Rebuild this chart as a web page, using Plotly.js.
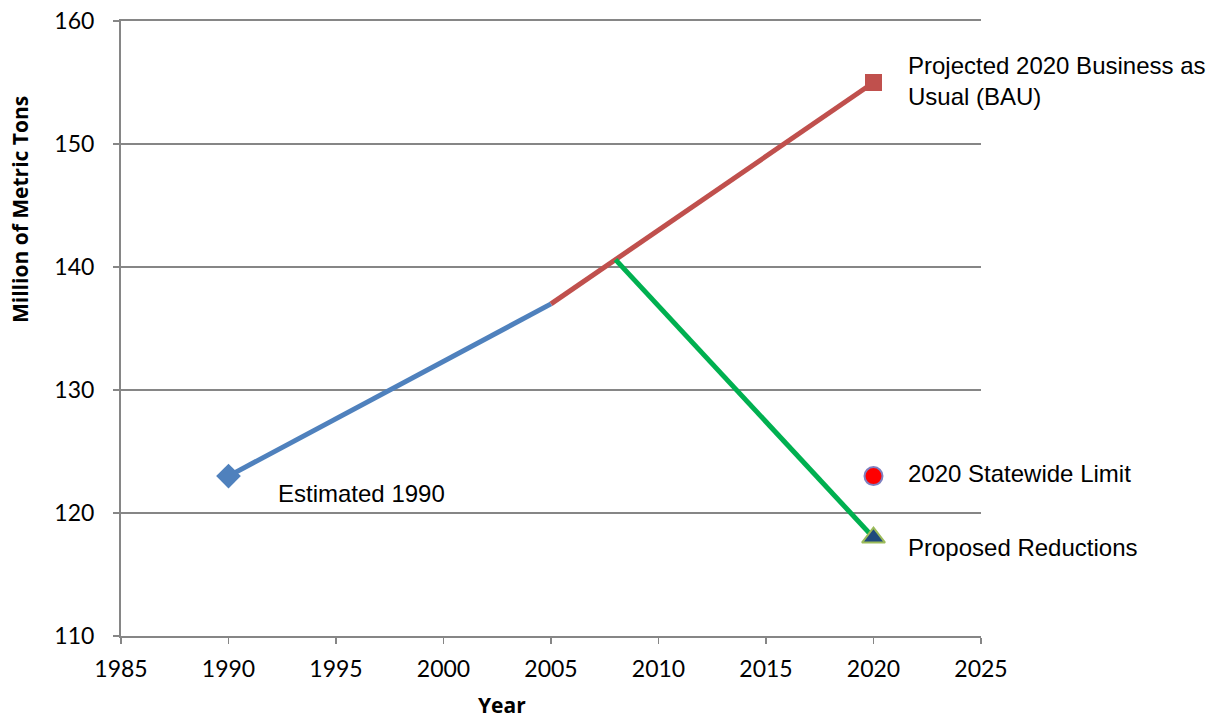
<!DOCTYPE html>
<html>
<head>
<meta charset="utf-8">
<script src="https://cdn.plot.ly/plotly-3.0.1.min.js"></script>
<style>html,body{margin:0;padding:0;background:#fff;}#chart{width:1209px;height:719px;}</style>
</head>
<body>
<div id="chart"></div>
<script>
// Data
const estYears = [1990, 2005];
const estValues = [123, 137];
const bauYears = [2005, 2020];
const bauValues = [137, 155];
const reduceYears = [2008, 2020];
const reduceValues = [140.6, 118];
const limitYears = [2020];
const limitValues = [123];
const labelTexts = ["Projected 2020 Business as<br>Usual (BAU)", "2020 Statewide Limit", "Proposed Reductions", "Estimated 1990"];
const labelX = [2021.5, 2021.5, 2021.5, 1992.2];
const labelY = [155.1, 123.2, 117.2, 121.6];
const xTicks = [1985, 1990, 1995, 2000, 2005, 2010, 2015, 2020, 2025];
const yTicks = [110, 120, 130, 140, 150, 160];
const xTitle = 'Year';
const yTitle = 'Million of Metric Tons';

const traces = [
  {x: estYears, y: estValues, mode: 'lines', line: {color: '#4F81BD', width: 5}},
  {x: bauYears, y: bauValues, mode: 'lines', line: {color: '#C0504D', width: 5}},
  {x: reduceYears, y: reduceValues, mode: 'lines', line: {color: '#00B050', width: 5}},
  {x: estYears.slice(0, 1), y: estValues.slice(0, 1), mode: 'markers',
   marker: {symbol: 'diamond', size: 19, color: '#4F81BD', opacity: 1}},
  {x: bauYears.slice(-1), y: bauValues.slice(-1), mode: 'markers',
   marker: {symbol: 'square', size: 17, color: '#C0504D', opacity: 1}},
  {x: reduceYears.slice(-1), y: reduceValues.slice(-1), mode: 'markers',
   marker: {symbol: 'triangle-up', size: 20, color: '#1F497D', opacity: 1, line: {color: '#9BBB59', width: 2}}},
  {x: limitYears, y: limitValues, mode: 'markers',
   marker: {symbol: 'circle', size: 18, color: '#FF0000', opacity: 1, line: {color: '#7F7FBF', width: 2}}}
];

const W = 1209, H = 719, mL = 121, mR = 228, mT = 21, mB = 83;
const pw = W - mL - mR, ph = H - mT - mB;

const annotations = labelTexts.map((t, i) => ({
  x: labelX[i], y: labelY[i], xref: 'x', yref: 'y', text: t, showarrow: false,
  xanchor: 'left', yanchor: 'middle', align: 'left',
  font: {family: 'Liberation Sans, Arial, sans-serif', size: 24, color: '#000'}
}));
annotations.push({
  x: (502 - mL) / pw, y: 1 - (705 - mT) / ph, xref: 'paper', yref: 'paper',
  text: '<b>' + xTitle + '</b>', showarrow: false,
  xanchor: 'center', yanchor: 'middle',
  font: {family: 'Open Sans, sans-serif', size: 21, color: '#000'}
});
annotations.push({
  x: (20 - mL) / pw, y: 1 - (210 - mT) / ph, xref: 'paper', yref: 'paper',
  text: '<b>' + yTitle + '</b>', showarrow: false, textangle: -90,
  xanchor: 'center', yanchor: 'middle',
  font: {family: 'Open Sans, sans-serif', size: 21, color: '#000'}
});

const layout = {
  width: W, height: H,
  margin: {l: mL, r: mR, t: mT, b: mB},
  paper_bgcolor: '#fff', plot_bgcolor: '#fff',
  showlegend: false,
  font: {family: 'Lato, Open Sans, sans-serif', size: 23, color: '#000'},
  xaxis: {
    range: [1985, 2025], tickvals: xTicks, ticktext: xTicks.map(String),
    showgrid: false, zeroline: false, showline: true, linecolor: '#868686', linewidth: 2, mirror: true,
    ticks: 'outside', ticklen: 6, tickcolor: '#868686', tickwidth: 1.5,
    ticklabelstandoff: 5,
    tickfont: {family: 'Lato, sans-serif', size: 23}
  },
  yaxis: {
    range: [110, 160], tickvals: yTicks, ticktext: yTicks.map(String),
    showgrid: true, gridcolor: '#868686', gridwidth: 1.5, zeroline: false,
    showline: true, linecolor: '#868686', linewidth: 2,
    ticks: 'outside', ticklen: 6, tickcolor: '#868686', tickwidth: 1.5,
    ticklabelstandoff: 14,
    tickfont: {family: 'Lato, sans-serif', size: 23}
  },
  annotations: annotations
};

Plotly.newPlot('chart', traces, layout, {displayModeBar: false, staticPlot: true});
</script>
</body>
</html>
